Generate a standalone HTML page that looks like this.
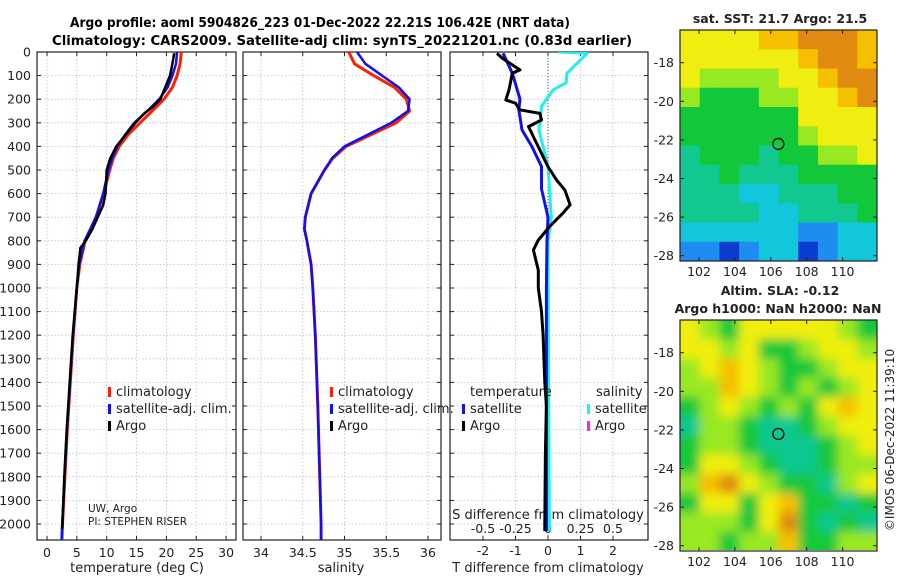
<!DOCTYPE html>
<html><head><meta charset="utf-8"><style>
html,body{margin:0;padding:0;background:#fff;}
svg{display:block;font-family:"DejaVu Sans","Liberation Sans",sans-serif;}
</style></head><body>
<svg id="chart" width="900" height="580" viewBox="0 0 900 580">
<defs>
<filter id="blur2" x="-5%" y="-5%" width="110%" height="110%"><feGaussianBlur stdDeviation="5"/></filter>
<clipPath id="clipMap2"><rect x="680" y="320" width="197" height="230"/></clipPath>
<clipPath id="clipP1"><rect x="37" y="52" width="199" height="488"/></clipPath>
<clipPath id="clipP2"><rect x="243" y="52" width="198" height="488"/></clipPath>
<clipPath id="clipP3"><rect x="450" y="52" width="198" height="488"/></clipPath>
</defs>
<text x="70" y="27" font-size="13" font-weight="bold" textLength="500" lengthAdjust="spacingAndGlyphs">Argo profile: aoml 5904826_223 01-Dec-2022 22.21S 106.42E (NRT data)</text>
<text x="52" y="45" font-size="13" font-weight="bold" textLength="580" lengthAdjust="spacingAndGlyphs">Climatology: CARS2009. Satellite-adj clim: synTS_20221201.nc (0.83d earlier)</text>
<g id="layer"></g>
</svg>
<script>
// ---- data ----
var depthLevels = [0,100,200,300,400,500,600,700,800,900,1000,1100,1200,1300,1400,1500,1600,1700,1800,1900,2000];
var tempTicks = [0,5,10,15,20,25,30];
var salTicks = [34,34.5,35,35.5,36];
var salTickLabels = ["34","34.5","35","35.5","36"];
var tdiffTicks = [-2,-1,0,1,2];
var sdiffTicks = [-0.5,-0.25,0,0.25,0.5];

var tClimDepth = [0,50,100,150,200,250,300,350,400,450,500,600,700,800,900,1000,1200,1400,1600,1800,2000,2070];
var tClimVal   = [22.5,22.3,21.8,21,19.6,17.6,15.6,13.6,12.1,11.1,10.5,9.5,8.2,6.4,5.5,5.0,4.4,3.9,3.4,3.0,2.6,2.5];
var tSatDepth = [0,50,100,150,200,250,300,350,400,450,500,600,700,800,900,1000,1200,1400,1600,1800,2000,2070];
var tSatVal   = [21.8,21.6,21.0,20.2,18.8,16.8,14.6,13.1,11.8,10.9,10.3,9.4,8.2,6.3,5.4,5.0,4.35,3.85,3.35,2.95,2.55,2.45];
var tArgoDepth = [5,50,100,150,200,230,260,300,350,400,450,500,550,600,650,700,750,800,830,900,1000,1200,1400,1600,1800,2000,2020];
var tArgoVal   = [21.3,21.0,20.6,19.8,19.0,17.8,16.3,14.8,13.2,11.6,10.6,10.0,9.9,9.8,9.4,8.5,7.6,6.5,5.6,5.3,5.0,4.3,3.8,3.3,2.9,2.6,2.55];

var sClimDepth = [0,50,100,150,200,250,300,350,400,450,500,600,700,750,800,900,1000,1200,1500,2000,2070];
var sClimVal   = [35.05,35.12,35.35,35.6,35.74,35.78,35.62,35.32,35.02,34.86,34.76,34.6,34.53,34.52,34.55,34.6,34.62,34.65,34.68,34.72,34.72];
var sSatDepth = [0,50,100,150,200,250,300,350,400,450,500,600,700,750,800,900,1000,1200,1500,2000,2070];
var sSatVal   = [35.15,35.25,35.45,35.65,35.78,35.76,35.56,35.28,35.0,34.85,34.76,34.6,34.53,34.52,34.55,34.6,34.62,34.65,34.68,34.72,34.72];

var dTSatDepth = [5,90,200,245,330,400,485,580,700,800,1000,2000,2030];
var dTSatVal   = [-1.38,-1.1,-0.86,-0.9,-0.8,-0.5,-0.2,-0.2,0,-0.03,-0.05,-0.05,-0.05];
var dSSatDepth = [0,5,20,90,130,160,230,290,330,485,700,800,2000,2030];
var dSSatVal   = [0.075,0.3,0.275,0.145,0.14,0.04,-0.05,-0.06,-0.07,0,0.025,0,0.01,0.01];
var dTArgoDepth = [6,27,76,90,161,203,217,245,260,288,316,373,486,542,585,648,684,740,797,839,924,1000,1100,1200,1400,1500,1700,2000,2030];
var dTArgoVal   = [-1.57,-1.4,-0.86,-1.1,-1.2,-1.3,-1.0,-0.87,-0.25,-0.2,-0.6,-0.4,0,0.26,0.52,0.68,0.45,0.05,-0.3,-0.45,-0.3,-0.3,-0.2,-0.15,-0.1,-0.05,-0.08,-0.1,-0.1];

var mapLonTicks = [102,104,106,108,110];
var mapLatTicks = [-18,-20,-22,-24,-26,-28];
var floatLon = 106.42, floatLat = -22.21;
var sstGrid = [
 [6,6,6,6,7,7,8,8,8,7],
 [6,6,6,6,6,6,7,8,8,7],
 [6,5,5,5,5,6,6,7,8,8],
 [5,4,4,4,5,5,6,6,7,8],
 [4,4,4,4,4,4,6,6,6,6],
 [4,4,4,4,4,4,5,6,6,6],
 [3,4,4,4,3,4,4,5,5,6],
 [3,3,4,3,3,3,4,4,4,4],
 [3,3,3,2,2,3,3,3,4,4],
 [3,3,3,3,2,2,3,3,3,4],
 [2,2,2,2,2,2,1,1,2,2],
 [1,1,0,1,2,2,0,1,2,2]];
var slaGrid = [
 [6,5,4,6,6,6,6,6,5,4],
 [6,6,5,6,4,4,5,6,6,5],
 [5,6,7,6,5,4,4,5,6,6],
 [5,5,7,6,5,4,5,4,5,6],
 [4,5,6,5,4,5,4,6,7,6],
 [3,5,5,4,3,3,4,5,6,6],
 [4,5,5,4,3,3,3,4,5,6],
 [4,6,6,5,4,3,3,4,5,5],
 [5,7,8,6,5,4,4,3,5,6],
 [4,6,6,4,6,7,4,4,3,4],
 [5,5,5,4,6,8,4,3,4,3],
 [5,5,4,5,5,7,4,4,5,5]];
var palette = ['#0a3cd0','#1e8cf0','#12c6dc','#10c890','#12c83a','#98e822','#f0ee10','#f6c000','#e08a10'];

// ---- helpers ----
var NS='http://www.w3.org/2000/svg';
var layer=document.getElementById('layer');
function mk(tag,attrs,parent){var e=document.createElementNS(NS,tag);for(var k in attrs)e.setAttribute(k,attrs[k]);(parent||layer).appendChild(e);return e;}
var yTop=52, pxPerM=0.236;
function yD(d){return yTop+d*pxPerM;}
function xT(t){return 47+t*5.97;}
function xS(s){return 261+(s-34)*83.5;}
function xDT(t){return 548+t*32.5;}
function xDS(s){return 548+s*130;}
function mapX(lon){return 699+(lon-102)*17.95;}
function mapY(lat,off){return 62.7+off+(-18-lat)*19.3;}

var panels=[{x:37,w:199,clip:'clipP1',name:'temperature-panel'},{x:243,w:198,clip:'clipP2',name:'salinity-panel'},{x:450,w:198,clip:'clipP3',name:'difference-panel'}];
var yBottom=540;

panels.forEach(function(p,pi){
  var g=mk('g',{});
  
  
  depthLevels.forEach(function(d){
    var y=yD(d);
    var l=mk('line',{x1:p.x,x2:p.x+p.w,y1:y,y2:y,stroke:'#b8bde8','stroke-width':0.8,'stroke-dasharray':'1.5,2'},g);
    
    
    mk('line',{x1:p.x,x2:p.x+4,y1:y,y2:y,stroke:'#222'},g);
    mk('line',{x1:p.x+p.w-4,x2:p.x+p.w,y1:y,y2:y,stroke:'#222'},g);
    if(pi===0){
      var t=mk('text',{x:31,y:y+4.5,'font-size':12.5,'text-anchor':'end',fill:'#222'},g);
      t.textContent=d;
      
      
    }
  });
  mk('rect',{x:p.x,y:yTop,width:p.w,height:yBottom-yTop,fill:'none',stroke:'#222','stroke-width':1.2},g);
  p.g=g;
});

function vgrid(g,x){
  var l=mk('line',{x1:x,x2:x,y1:yTop,y2:yBottom,stroke:'#b8bde8','stroke-width':0.8,'stroke-dasharray':'1.5,2'},g);
  
  
  mk('line',{x1:x,x2:x,y1:yBottom-4,y2:yBottom,stroke:'#222'},g);
  mk('line',{x1:x,x2:x,y1:yTop,y2:yTop+4,stroke:'#222'},g);
}
function label(x,y,txt,name,size,anchor,weight){
  var t=mk('text',{x:x,y:y,'font-size':size||12.5,'text-anchor':anchor||'middle',fill:'#222','font-weight':weight||'normal'});
  t.textContent=txt;
  
  
  return t;
}
tempTicks.forEach(function(v){vgrid(panels[0].g,xT(v));label(xT(v),557,String(v),'temperature-tick-label');});
salTicks.forEach(function(v,i){vgrid(panels[1].g,xS(v));label(xS(v),557,salTickLabels[i],'salinity-tick-label');});
tdiffTicks.forEach(function(v){vgrid(panels[2].g,xDT(v));label(xDT(v),555,String(v),'t-diff-tick-label');});
sdiffTicks.forEach(function(v){label(xDS(v),533,String(v),'s-diff-tick-label');});
mk('line',{x1:xDT(0),x2:xDT(0),y1:yTop,y2:yBottom,stroke:'#555','stroke-width':1,'stroke-dasharray':'1,2'});
label(137,572,'temperature (deg C)','x-axis-title-temperature',13);
label(341,572,'salinity','x-axis-title-salinity',13);
label(548,572,'T difference from climatology','x-axis-title-t-diff',13);
label(548,519,'S difference from climatology','x-axis-title-s-diff',13);
label(88,512,'UW, Argo','institution-label',10.5,'start');
label(88,525,'PI: STEPHEN RISER','pi-label',10.5,'start');

function line(clip,depths,vals,xf,color,w,name){
  var pts=depths.map(function(d,i){return xf(vals[i]).toFixed(1)+','+yD(d).toFixed(1);}).join(' ');
  var pl=mk('polyline',{points:pts,fill:'none',stroke:color,'stroke-width':w,'stroke-linejoin':'round','clip-path':'url(#'+clip+')'});
  
  
}
line('clipP1',tClimDepth,tClimVal,xT,'#ff2000',3,'temp-climatology-line');
line('clipP1',tSatDepth,tSatVal,xT,'#1010f0',2.5,'temp-satellite-line');
line('clipP1',tArgoDepth,tArgoVal,xT,'#000',2.5,'temp-argo-line');
line('clipP2',sClimDepth,sClimVal,xS,'#ff2000',3,'salinity-climatology-line');
line('clipP2',sSatDepth,sSatVal,xS,'#1010f0',2.5,'salinity-satellite-line');
line('clipP3',dSSatDepth,dSSatVal,xDS,'#20f0f0',3,'s-diff-satellite-line');
line('clipP3',dTSatDepth,dTSatVal,xDT,'#1010f0',3,'t-diff-satellite-line');
line('clipP3',dTArgoDepth,dTArgoVal,xDT,'#000',3,'t-diff-argo-line');

function legendEntry(x,y,color,txt,name){
  var g=mk('g',{});
  
  
  mk('rect',{x:x,y:y-9,width:3,height:10,fill:color},g);
  var t=mk('text',{x:x+8,y:y,'font-size':13,fill:'#222'},g);t.textContent=txt;
}
legendEntry(108,396,'#ff2000','climatology','legend-climatology');
legendEntry(108,413,'#1010f0','satellite-adj. clim.','legend-satellite');
legendEntry(108,430,'#000','Argo','legend-argo');
legendEntry(330,396,'#ff2000','climatology','legend-climatology-sal');
legendEntry(330,413,'#1010f0','satellite-adj. clim.','legend-satellite-sal');
legendEntry(330,430,'#000','Argo','legend-argo-sal');
label(470,396,'temperature','legend-header-temperature',13,'start');
label(596,396,'salinity','legend-header-salinity',13,'start');
legendEntry(462,413,'#1010f0','satellite','legend-t-satellite');
legendEntry(462,430,'#000','Argo','legend-t-argo');
legendEntry(587,413,'#20f0f0','satellite','legend-s-satellite');
legendEntry(587,430,'#ff20ff','Argo','legend-s-argo');

// ---- maps ----
function drawMap(grid,off,blur,name,clip){
  var g=mk('g',{});
  
  
  var inner=mk('g',blur?{filter:'url(#blur2)'}:{},g);
  if(clip){var wrap=g;g=mk('g',{'clip-path':'url(#'+clip+')'},wrap);g.appendChild(inner);}
  var x0=680,y0=30+off,w=197,h=231,rows=grid.length,cols=grid[0].length;
  var cw=w/cols,ch=h/rows;
  grid.forEach(function(row,r){row.forEach(function(v,c){
    var pad=blur?12:0;
    var rx=x0+c*cw-(c===0?pad:0), ry=y0+r*ch-(r===0?pad:0);
    var rw=cw+(c===0?pad:0)+(c===cols-1?pad:0)+0.5, rh=ch+(r===0?pad:0)+(r===rows-1?pad:0)+0.5;
    var cell=mk('rect',{x:rx,y:ry,width:rw,height:rh,fill:palette[v]},inner);
    
    
  });});
  mk('rect',{x:x0,y:y0,width:w,height:h,fill:'none',stroke:'#222','stroke-width':1.2});
  mapLonTicks.forEach(function(lon){
    var x=mapX(lon);
    mk('line',{x1:x,x2:x,y1:y0+h-4,y2:y0+h,stroke:'#222'});
    mk('line',{x1:x,x2:x,y1:y0,y2:y0+4,stroke:'#222'});
    label(x,y0+h+15,String(lon),'map-lon-tick-label',12.5);
  });
  mapLatTicks.forEach(function(lat){
    var y=mapY(lat,off);
    mk('line',{x1:x0,x2:x0+4,y1:y,y2:y,stroke:'#222'});
    mk('line',{x1:x0+w-4,x2:x0+w,y1:y,y2:y,stroke:'#222'});
    label(x0-6,y+4.5,String(lat),'map-lat-tick-label',12.5,'end');
  });
  var c=mk('circle',{cx:mapX(floatLon),cy:mapY(floatLat,off),r:5.5,fill:'none',stroke:'#000','stroke-width':1.3});
  
  
}
drawMap(sstGrid,0,false,'sst-map',null);
drawMap(slaGrid,290,true,'sla-map','clipMap2');
label(780,23,'sat. SST: 21.7 Argo: 21.5','sst-map-title',12.5,'middle','bold');
label(780,295,'Altim. SLA: -0.12','sla-map-title',12.5,'middle','bold');
label(778,313,'Argo h1000: NaN h2000: NaN','argo-height-title',12.5,'middle','bold');
var ts=label(0,0,'©IMOS 06-Dec-2022 11:39:10','timestamp-label',12,'middle');
ts.setAttribute('transform','translate(894,440) rotate(-90)');
</script>
</body></html>
